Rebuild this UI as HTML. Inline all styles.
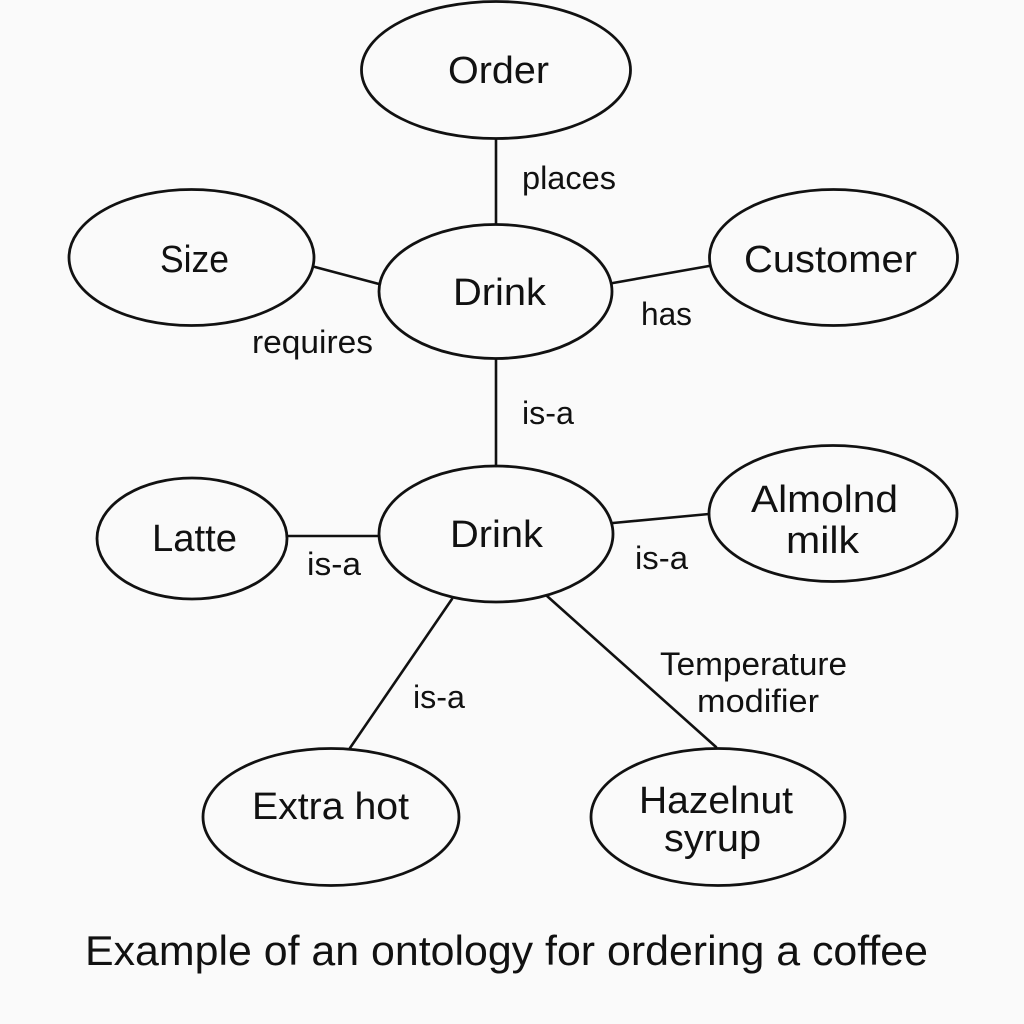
<!DOCTYPE html>
<html>
<head>
<meta charset="utf-8">
<style>
  html, body { margin: 0; padding: 0; background: #fafafa; }
  svg { display: block; }
  text { font-family: "Liberation Sans", "DejaVu Sans", sans-serif; fill: #111; }
</style>
</head>
<body>
<svg width="1024" height="1024" viewBox="0 0 1024 1024" xmlns="http://www.w3.org/2000/svg">
  <rect width="1024" height="1024" fill="#fafafa"/>
  <g stroke="#111" stroke-width="2.6" fill="none" stroke-linecap="round">
    <line x1="496" y1="139" x2="496" y2="224"/>
    <line x1="315" y1="267" x2="379" y2="284"/>
    <line x1="613" y1="283" x2="709" y2="266"/>
    <line x1="496" y1="359" x2="496" y2="466"/>
    <line x1="287" y1="536" x2="379" y2="536"/>
    <line x1="613" y1="523" x2="709" y2="514"/>
    <line x1="452" y1="599" x2="350" y2="748"/>
    <line x1="547" y1="596" x2="716" y2="747"/>
  </g>
  <g stroke="#111" stroke-width="2.8" fill="none">
    <ellipse cx="496" cy="70" rx="134.5" ry="68.5"/>
    <ellipse cx="191.5" cy="257.5" rx="122.5" ry="68"/>
    <ellipse cx="495.5" cy="291.5" rx="116.5" ry="67"/>
    <ellipse cx="833.5" cy="257.5" rx="124" ry="68"/>
    <ellipse cx="192" cy="538.5" rx="95" ry="60.5"/>
    <ellipse cx="496" cy="534" rx="117" ry="68"/>
    <ellipse cx="833" cy="513.5" rx="124" ry="68"/>
    <ellipse cx="331" cy="817" rx="128" ry="68.5"/>
    <ellipse cx="718" cy="817" rx="127" ry="68.5"/>
  </g>
  <g font-size="38">
    <text x="448" y="83" textLength="101" lengthAdjust="spacingAndGlyphs">Order</text>
    <text x="160" y="272" textLength="69" lengthAdjust="spacingAndGlyphs">Size</text>
    <text x="453" y="305" textLength="93" lengthAdjust="spacingAndGlyphs">Drink</text>
    <text x="744" y="272" textLength="173" lengthAdjust="spacingAndGlyphs">Customer</text>
    <text x="152" y="551" textLength="85" lengthAdjust="spacingAndGlyphs">Latte</text>
    <text x="450" y="547" textLength="93" lengthAdjust="spacingAndGlyphs">Drink</text>
    <text x="751" y="512" textLength="147" lengthAdjust="spacingAndGlyphs">Almolnd</text>
    <text x="786" y="553" textLength="73" lengthAdjust="spacingAndGlyphs">milk</text>
    <text x="252" y="819" textLength="157" lengthAdjust="spacingAndGlyphs">Extra hot</text>
    <text x="639" y="813" textLength="154" lengthAdjust="spacingAndGlyphs">Hazelnut</text>
    <text x="664" y="851" textLength="97" lengthAdjust="spacingAndGlyphs">syrup</text>
  </g>
  <g font-size="32">
    <text x="522" y="189" textLength="94" lengthAdjust="spacingAndGlyphs">places</text>
    <text x="252" y="353" textLength="121" lengthAdjust="spacingAndGlyphs">requires</text>
    <text x="641" y="325" textLength="51" lengthAdjust="spacingAndGlyphs">has</text>
    <text x="522" y="424" textLength="52" lengthAdjust="spacingAndGlyphs">is-a</text>
    <text x="307" y="575" textLength="54" lengthAdjust="spacingAndGlyphs">is-a</text>
    <text x="635" y="569" textLength="53" lengthAdjust="spacingAndGlyphs">is-a</text>
    <text x="413" y="708" textLength="52" lengthAdjust="spacingAndGlyphs">is-a</text>
    <text x="660" y="675" textLength="187" lengthAdjust="spacingAndGlyphs">Temperature</text>
    <text x="697" y="712" textLength="122" lengthAdjust="spacingAndGlyphs">modifier</text>
  </g>
  <text x="85" y="965" font-size="42" textLength="843" lengthAdjust="spacingAndGlyphs">Example of an ontology for ordering a coffee</text>
</svg>
</body>
</html>
